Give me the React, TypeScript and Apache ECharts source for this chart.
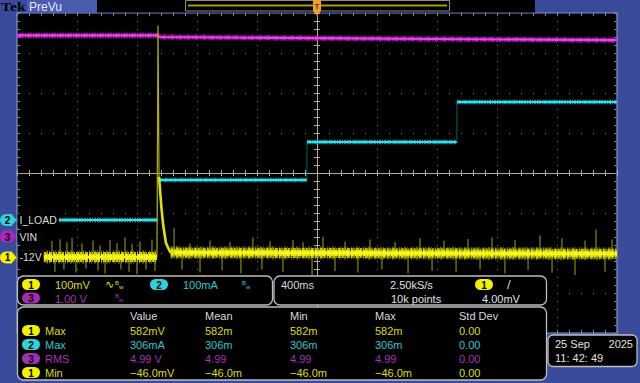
import React, { useEffect, useRef } from "react";
import * as echarts from "echarts";

// ---------- scope settings ----------
const MS_PER_DIV = 400;
const CH1_MV_PER_DIV = 100;
const CH2_MA_PER_DIV = 100;
const CH3_V_PER_DIV = 1;
const CH1_POS = -2.11; // ground marker position, divisions from centre
const CH2_POS = -1.175;
const CH3_POS = -1.59;

// ---------- trace data ----------
// channel 1 (-12V, mV) : [ms, mV]
const ch1BeforeStep = [[-2000, 1], [-1067, 1]];
const ch1Transient = [
  [-1067, 1], [-1060, 579], [-1053, 201], [-1036, 119], [-1024, 77],
  [-1007, 36], [-980, 14], [-947, 10],
];
const ch1AfterStep = [[-975, 12], [2000, 9]];
const ch1StepTime = -1064;
const ch1Spikes = [
  [-1767, 41], [-1747, -36], [-1713, 45], [-1687, -30], [-1667, 38], [-1633, 49],
  [-1607, -38], [-1567, 35], [-1540, -28], [-1493, 42], [-1460, -33], [-1447, 30],
  [-1413, -40], [-1380, 44], [-1333, 36], [-1307, -30], [-1280, 50], [-1253, -36],
  [-1233, 34], [-1200, -42], [-1180, 40], [-1140, -30], [-1100, 45], [-1080, -34],
  [-953, 74], [-900, -30], [-847, 35], [-780, -38], [-713, 42], [-633, -32],
  [-580, 38], [-507, -40], [-427, 50], [-367, -30], [-313, 40], [-227, -36],
  [-160, 44], [-93, 38], [-33, -44], [40, 52], [120, -34], [187, 40], [273, -38],
  [353, 45], [433, -30], [520, 38], [607, -40], [687, 48], [767, -34], [847, 42],
  [927, -36], [1007, 46], [1087, -30], [1167, 50], [1253, -40], [1320, 44],
  [1407, -32], [1487, 55], [1567, -38], [1633, 48], [1720, -44], [1787, 42],
  [1860, 70], [1920, -36], [1967, 45],
];
// channel 2 (I_LOAD, mA) steps : [startMs, endMs, mA]
const ch2Steps = [
  [-2000, -1063, 0],
  [-1063, -67, 100],
  [-67, 933, 195],
  [933, 2000, 295],
];
// channel 3 (VIN, V) : [ms, V]
const ch3Trace = [[-2000, 5.03], [-1065, 5.03], [-1052, 4.99], [0, 4.96], [2000, 4.91]];

// ---------- readouts ----------
const chanMarkerNumbers = ["2", "3", "1"];
const chanMarkerLabels = ["I_LOAD", "VIN", "-12V"];
const ch1Scale = "100mV";
const ch2Scale = "100mA";
const ch3Scale = "1.00 V";
const timebase = "400ms";
const sampleRate = "2.50kS/s";
const recordLength = "10k points";
const triggerLevel = "4.00mV";
const measHeaders = ["Value", "Mean", "Min", "Max", "Std Dev"];
const measChannels = [1, 2, 3, 1];
const measNames = ["Max", "Max", "RMS", "Min"];
const measValue = ["582mV", "306mA", "4.99 V", "\u221246.0mV"];
const measMean = ["582m", "306m", "4.99", "\u221246.0m"];
const measMin = ["582m", "306m", "4.99", "\u221246.0m"];
const measMax = ["582m", "306m", "4.99", "\u221246.0m"];
const measStd = ["0.00", "0.00", "0.00", "0.00"];
const dateText = "25 Sep";
const yearText = "2025";
const clockText = "11: 42: 49";

// ---------- styles ----------
const BG = "#3b4b9b";
const FONT = '"Liberation Sans", Arial, sans-serif';
const chText: Record<number, string> = { 1: "#dede00", 2: "#2cc8d0", 3: "#a634b6" };
const chPill: Record<number, string> = { 1: "#f2f200", 2: "#30d2da", 3: "#a02eb0" };
const chMarker: Record<string, string> = { "1": "#f2f200", "2": "#30d2da", "3": "#b024c0" };

const tX = (ms: number) => ms / MS_PER_DIV;
const y1 = (mV: number) => mV / CH1_MV_PER_DIV + CH1_POS;
const y2 = (mA: number) => mA / CH2_MA_PER_DIV + CH2_POS;
const y3 = (v: number) => v / CH3_V_PER_DIV + CH3_POS;

function buildOption() {
  const centre = { color: "#b2ab98", width: 1 };
  const edge = { color: "#8c8c8c", width: 1 };
  const xBase = { type: "value", min: -5, max: 5, interval: 1, axisLabel: { show: false } };
  const yBase = { type: "value", min: -4, max: 4, interval: 1, axisLabel: { show: false } };
  const centreAxis = (extra: any, split: any) => ({
    ...extra,
    gridIndex: 0,
    axisLine: { show: true, onZero: true, lineStyle: centre },
    axisTick: { show: true, length: 3, lineStyle: centre },
    minorTick: { show: true, splitNumber: 5, length: 3, lineStyle: centre },
    splitLine: split,
  });
  const edgeAxis = (extra: any) => ({
    ...extra,
    gridIndex: 1,
    axisLine: { show: false, onZero: false },
    axisTick: { show: true, inside: true, length: 3, lineStyle: edge },
    minorTick: { show: true, splitNumber: 5, length: 3, lineStyle: edge },
    splitLine: { show: false },
  });

  const ch2Data = ch2Steps.map(([a, b, v]) => [tX(a), tX(b), y2(v)]);
  const line = (data: number[][], width: number, color: string, type: any = "solid", z = 2) => ({
    type: "line",
    xAxisIndex: 0,
    yAxisIndex: 0,
    data,
    showSymbol: false,
    symbol: "none",
    silent: true,
    z,
    lineStyle: { width, color, type, cap: "butt", join: "round" },
  });

  const p1 = (arr: number[][]) => arr.map(([t, v]) => [tX(t), y1(v)]);
  const p3 = ch3Trace.map(([t, v]) => [tX(t), y3(v)]);

  return {
    backgroundColor: BG,
    animation: false,
    grid: [
      { left: 17, top: 13, width: 600, height: 320, show: true, backgroundColor: "#000", borderColor: "#7b93d8", borderWidth: 1.2 },
      { left: 17, top: 13, width: 600, height: 320, show: false },
    ],
    xAxis: [
      centreAxis({ ...xBase, position: "bottom" }, { show: true, lineStyle: { color: "#767676", width: 1, type: [1, 7] } }),
      centreAxis({ ...xBase, position: "top" }, { show: false }),
      edgeAxis({ ...xBase, position: "top" }),
      edgeAxis({ ...xBase, position: "bottom" }),
    ],
    yAxis: [
      centreAxis({ ...yBase, position: "left" }, { show: true, lineStyle: { color: "#767676", width: 1, type: [1, 11] } }),
      centreAxis({ ...yBase, position: "right" }, { show: false }),
      edgeAxis({ ...yBase, position: "left" }),
      edgeAxis({ ...yBase, position: "right" }),
    ],
    series: [
      // channel 3 (magenta)
      line(p3, 6, "rgba(180,20,180,0.65)", [1, 2, 2, 1, 1, 1]),
      line(p3, 4.5, "#c81ec8", [1, 1, 2, 1, 1, 2]),
      line(p3, 2.2, "#ea44ea"),
      // channel 2 (cyan steps)
      {
        type: "custom",
        xAxisIndex: 0,
        yAxisIndex: 0,
        silent: true,
        z: 3,
        data: ch2Data,
        encode: { x: [0, 1], y: 2 },
        renderItem: (params: any, api: any) => {
          const lv = api.value(2);
          const a = api.coord([api.value(0), lv]);
          const b = api.coord([api.value(1), lv]);
          const children: any[] = [
            { type: "line", shape: { x1: a[0], y1: a[1], x2: b[0], y2: b[1] }, style: { stroke: "rgba(0,165,180,0.6)", lineWidth: 5, lineDash: [2, 1, 1, 2, 1, 1], lineCap: "butt" } },
            { type: "line", shape: { x1: a[0], y1: a[1], x2: b[0], y2: b[1] }, style: { stroke: "#10b8c4", lineWidth: 3.5, lineDash: [1, 1, 2, 1], lineCap: "butt" } },
            { type: "line", shape: { x1: a[0], y1: a[1], x2: b[0], y2: b[1] }, style: { stroke: "#40dce4", lineWidth: 2 } },
          ];
          if (params.dataIndex > 0) {
            const prev = ch2Data[params.dataIndex - 1][2];
            const p = api.coord([api.value(0), prev]);
            children.push({ type: "line", shape: { x1: p[0], y1: p[1], x2: a[0], y2: a[1] }, style: { stroke: "rgba(0,140,150,0.7)", lineWidth: 1 } });
          }
          return { type: "group", children };
        },
      },
      // channel 1 (yellow)
      {
        type: "custom",
        xAxisIndex: 0,
        yAxisIndex: 0,
        silent: true,
        z: 4,
        data: ch1Spikes.map(([t, v]) => [tX(t), y1(v), y1(t < ch1StepTime ? ch1BeforeStep[0][1] : ch1AfterStep[1][1])]),
        renderItem: (_p: any, api: any) => {
          const a = api.coord([api.value(0), api.value(2)]);
          const b = api.coord([api.value(0), api.value(1)]);
          return { type: "line", shape: { x1: a[0], y1: a[1], x2: b[0], y2: b[1] }, style: { stroke: "#a4a400", lineWidth: 1 } };
        },
      },
      line(p1(ch1BeforeStep), 13, "rgba(150,150,0,0.7)", [1, 1, 1, 2, 2, 1, 1, 3], 5),
      line(p1(ch1AfterStep), 13, "rgba(150,150,0,0.7)", [1, 1, 1, 2, 2, 1, 1, 3], 5),
      line(p1(ch1BeforeStep), 10, "#caca00", [2, 1, 1, 1, 3, 1], 6),
      line(p1(ch1AfterStep), 10, "#caca00", [2, 1, 1, 1, 3, 1], 6),
      line(p1(ch1BeforeStep), 6, "#eeee10", [3, 1, 2, 1, 4, 1], 7),
      line(p1(ch1AfterStep), 6, "#eeee10", [3, 1, 2, 1, 4, 1], 7),
      line(p1(ch1BeforeStep), 3, "#f6f620", "solid", 7),
      line(p1(ch1AfterStep), 3, "#f6f620", "solid", 7),
      line(p1(ch1Transient.slice(0, 3)), 1.2, "#b0b000", "solid", 7),
      line(p1(ch1Transient.slice(2)), 2.6, "#e2e200", "solid", 7),
    ],
  };
}

function txt(x: number, y: number, text: string, fill: string, extra: any = {}, el: any = {}) {
  return {
    type: "text",
    x,
    y,
    z: 102,
    silent: true,
    ...el,
    style: {
      text,
      fill,
      font: `11px ${FONT}`,
      textAlign: "left",
      align: "left",
      textVerticalAlign: "middle",
      verticalAlign: "middle",
      ...extra,
    },
  };
}

function pill(cx: number, cy: number, label: string, color: string) {
  return [
    { type: "rect", z: 101, silent: true, shape: { x: cx - 9, y: cy - 5.5, width: 18, height: 11, r: 5.5 }, style: { fill: color } },
    txt(cx, cy + 0.5, label, "#000", { font: `bold 10px ${FONT}`, textAlign: "center", align: "center" }),
  ];
}

function bw(x: number, y: number, color: string, wave: boolean) {
  const out: any[] = [];
  let bx = x;
  if (wave) {
    out.push(txt(x, y, "\u223F", color, { font: `11px "DejaVu Sans"` }));
    bx = x + 10;
  }
  out.push(txt(bx, y - 2, "B", color, { font: `6px ${FONT}` }));
  out.push(txt(bx + 4, y + 2, "w", color, { font: `6px ${FONT}` }));
  return out;
}

function buildGraphics(markerY: number[]) {
  const g: any[] = [];
  // top bar
  g.push({ type: "rect", z: 100, silent: true, shape: { x: 97, y: 0, width: 438, height: 12.5 }, style: { fill: "#000" } });
  g.push({ type: "rect", z: 100, silent: true, shape: { x: 27, y: 0, width: 70, height: 12.5 }, style: { fill: "#4a5cb0" } });
  g.push(txt(1, 6.5, "Tek", "#000", { font: `bold 13px "Liberation Serif", serif` }, { scaleX: 1.2 }));
  g.push(txt(29, 6.5, "PreVu", "#e6e6f6", { font: `12px ${FONT}` }));
  g.push({ type: "rect", z: 101, silent: true, shape: { x: 185.5, y: 0.5, width: 264, height: 10.5 }, style: { fill: "none", stroke: "#8c8c8c", lineWidth: 1 } });
  g.push({ type: "line", z: 101, silent: true, shape: { x1: 188, y1: 5.5, x2: 447, y2: 5.5 }, style: { stroke: "#a89e00", lineWidth: 2 } });
  g.push({ type: "polygon", z: 102, silent: true, shape: { points: [[313, 0], [321, 0], [321, 11], [317, 15.5], [313, 11]] }, style: { fill: "#f0a028" } });
  g.push(txt(317, 6, "T", "#603000", { font: `bold 8px ${FONT}`, textAlign: "center", align: "center" }));

  // channel markers and labels
  chanMarkerNumbers.forEach((n, i) => {
    const y = markerY[i];
    const c = chMarker[n];
    g.push({ type: "rect", z: 101, silent: true, shape: { x: 0, y: y - 6, width: 12, height: 12, r: [6, 0, 0, 6] }, style: { fill: c } });
    g.push({ type: "polygon", z: 101, silent: true, shape: { points: [[11.5, y - 6], [16.5, y], [11.5, y + 6]] }, style: { fill: c } });
    g.push(txt(7.5, y + 0.5, n, "#000", { font: `bold 10px ${FONT}`, textAlign: "center", align: "center" }));
    g.push(txt(17.5, y, chanMarkerLabels[i], "#dcdcdc", { font: `10.5px ${FONT}`, backgroundColor: "#000", padding: [1, 2, 1, 2] }));
  });

  // panels
  const panel = (x: number, y: number, w: number, h: number) => ({
    type: "rect", z: 100, silent: true,
    shape: { x, y, width: w, height: h, r: 6 },
    style: { fill: "#000", stroke: "#bdbdbd", lineWidth: 1.3 },
  });
  g.push(panel(17.5, 276, 255, 29));
  g.push(panel(274, 276, 272.5, 29));
  g.push(panel(17.5, 307, 529, 73));

  // vertical scale panel
  g.push(...pill(31, 284.5, "1", chPill[1]));
  g.push(txt(55, 285, ch1Scale, chText[1]));
  g.push(...bw(105, 284.5, chText[1], true));
  g.push(...pill(159, 284.5, "2", chPill[2]));
  g.push(txt(183, 285, ch2Scale, chText[2]));
  g.push(...bw(242, 284.5, chText[2], false));
  g.push(...pill(31, 298, "3", chPill[3]));
  g.push(txt(55, 298.5, ch3Scale, chText[3]));
  g.push(...bw(115, 298, chText[3], false));

  // timebase panel
  g.push(txt(281, 285, timebase, "#d8d8d8"));
  g.push(txt(390, 285, sampleRate, "#e0e0e0"));
  g.push(txt(391, 298.5, recordLength, "#e0e0e0"));
  g.push(...pill(484, 284.5, "1", chPill[1]));
  g.push(txt(507, 284.5, "\u2215", "#e0e0e0", { font: `11px "DejaVu Sans"` }));
  g.push(txt(482, 298.5, triggerLevel, "#e0e0e0"));

  // measurements
  const colX = [130, 205, 290, 375, 459];
  measHeaders.forEach((h, i) => g.push(txt(colX[i], 316, h, "#d8d8d8")));
  const rowY = [331, 345, 359, 373];
  measChannels.forEach((ch, r) => {
    const y = rowY[r];
    const c = chText[ch];
    g.push(...pill(31, y - 0.5, String(ch), chPill[ch]));
    g.push(txt(45, y, measNames[r], c));
    const vals = [measValue[r], measMean[r], measMin[r], measMax[r], measStd[r]];
    vals.forEach((v, i) => g.push(txt(colX[i], y, v, c)));
  });

  // date box
  g.push({ type: "rect", z: 100, silent: true, shape: { x: 548, y: 335, width: 89, height: 31.5, r: 5 }, style: { fill: "#000", stroke: "#bdbdbd", lineWidth: 1.3 } });
  g.push(txt(555, 343.5, dateText, "#e0e0e0"));
  g.push(txt(633, 343.5, yearText, "#e0e0e0", { textAlign: "right", align: "right" }));
  g.push(txt(555, 357.5, clockText, "#e0e0e0"));
  return g;
}

export default function App() {
  const ref = useRef<HTMLDivElement>(null);
  useEffect(() => {
    document.body.style.margin = "0";
    const chart = echarts.init(ref.current as HTMLDivElement, null, { renderer: "svg", width: 640, height: 383 });
    chart.setOption(buildOption() as any);
    const pos = [CH2_POS, CH3_POS, CH1_POS];
    const markerY = pos.map((p) => (chart.convertToPixel({ gridIndex: 0 } as any, [-5, p]) as number[])[1]);
    chart.setOption({ graphic: buildGraphics(markerY) } as any);
    return () => chart.dispose();
  }, []);
  return <div ref={ref} style={{ width: 640, height: 383, background: BG }} />;
}
